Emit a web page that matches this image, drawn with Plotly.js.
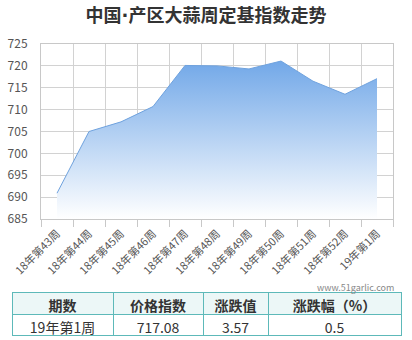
<!DOCTYPE html>
<html><head><meta charset="utf-8">
<script src="https://cdn.plot.ly/plotly-3.0.1.min.js"></script>
<style>html,body{margin:0;padding:0;background:#fff}#c{width:412px;height:340px}</style>
</head><body><div id="c"></div>
<script>
const weeks = ['18年第43周','18年第44周','18年第45周','18年第46周','18年第47周','18年第48周','18年第49周','18年第50周','18年第51周','18年第52周','19年第1周'];
const indexValues = [690.9, 705.0, 707.2, 710.7, 720.1, 720.0, 719.3, 721.1, 716.5, 713.51, 717.08];
const yTicks = [685, 690, 695, 700, 705, 710, 715, 720, 725];
const tableHeader = ['期数', '价格指数', '涨跌值', '涨跌幅（%）'];
const tableRow = ['19年第1周', '717.08', '3.57', '0.5'];

const F = '"Noto Sans CJK SC", "Noto Sans", sans-serif';
const W = 412, H = 340, ml = 12, mr = 11, mt = 44, mb = 4;
const pw = W - ml - mr, ph = H - mt - mb;
const px = v => (v - ml) / pw;
const py = v => (H - mb - v) / ph;

const traces = [
  {
    type: 'scatter', mode: 'lines', x: weeks, y: indexValues,
    line: {color: '#6fa2de', width: 1},
    fill: 'tozeroy',
    fillgradient: {type: 'vertical', start: 685, stop: 721,
      colorscale: [[0, 'rgba(255,255,255,1)'], [1, 'rgb(114,168,232)']]},
    hoverinfo: 'skip'
  },
  {
    type: 'table',
    domain: {x: [0, 1], y: [0, py(292)]},
    columnwidth: [101, 90, 65, 133],
    header: {values: tableHeader, height: 22, align: 'center',
      fill: {color: '#ecf7f7'}, line: {color: '#5db9b9', width: 1},
      font: {family: F, size: 14, color: '#333', weight: 'bold'}},
    cells: {values: tableRow.map(v => [v]), height: 21, align: 'center',
      fill: {color: '#ffffff'}, line: {color: '#5db9b9', width: 1},
      font: {family: F, size: 14, color: '#333'}}
  }
];

const layout = {
  width: W, height: H,
  margin: {l: ml, r: mr, t: mt, b: mb},
  paper_bgcolor: '#fff', plot_bgcolor: '#fff',
  showlegend: false,
  font: {family: F, color: '#555'},
  title: {text: '中国<span style="font-family:\'DejaVu Sans\'">·</span>产区大蒜周定基指数走势', x: 0.5, xref: 'container', y: 1 - 16 / H, yref: 'container', yanchor: 'middle',
    font: {family: F, size: 18, color: '#333', weight: 'bold'}},
  xaxis: {
    type: 'category', domain: [px(41), px(393)], anchor: 'y',
    range: [-0.5, 10.5], tickson: 'boundaries', ticks: 'outside', ticklen: 7, tickcolor: '#c8c8c8',
    showgrid: true, gridcolor: '#d2d2d2', gridwidth: 1,
    showline: true, linecolor: '#c8c8c8', mirror: true,
    tickangle: -45, ticklabelstandoff: 3, tickfont: {family: F, size: 11, color: '#555'},
    automargin: false, fixedrange: true
  },
  yaxis: {
    domain: [py(219), py(44)], range: [685, 725], tickvals: yTicks, ticktext: yTicks.map(String),
    showgrid: true, gridcolor: '#d2d2d2', gridwidth: 1, zeroline: false,
    showline: true, linecolor: '#c8c8c8', mirror: true, ticks: '',
    ticklabelstandoff: 10,
    tickfont: {family: F, size: 12, color: '#555'}, automargin: false, fixedrange: true
  },
  annotations: [
    {text: 'www.51garlic.com', xref: 'paper', yref: 'paper', x: px(396), y: py(287), xanchor: 'right', yanchor: 'middle',
      showarrow: false, font: {family: F, size: 9, color: '#888'}}
  ]
};

Plotly.newPlot('c', traces, layout, {staticPlot: true, displayModeBar: false});
</script></body></html>
